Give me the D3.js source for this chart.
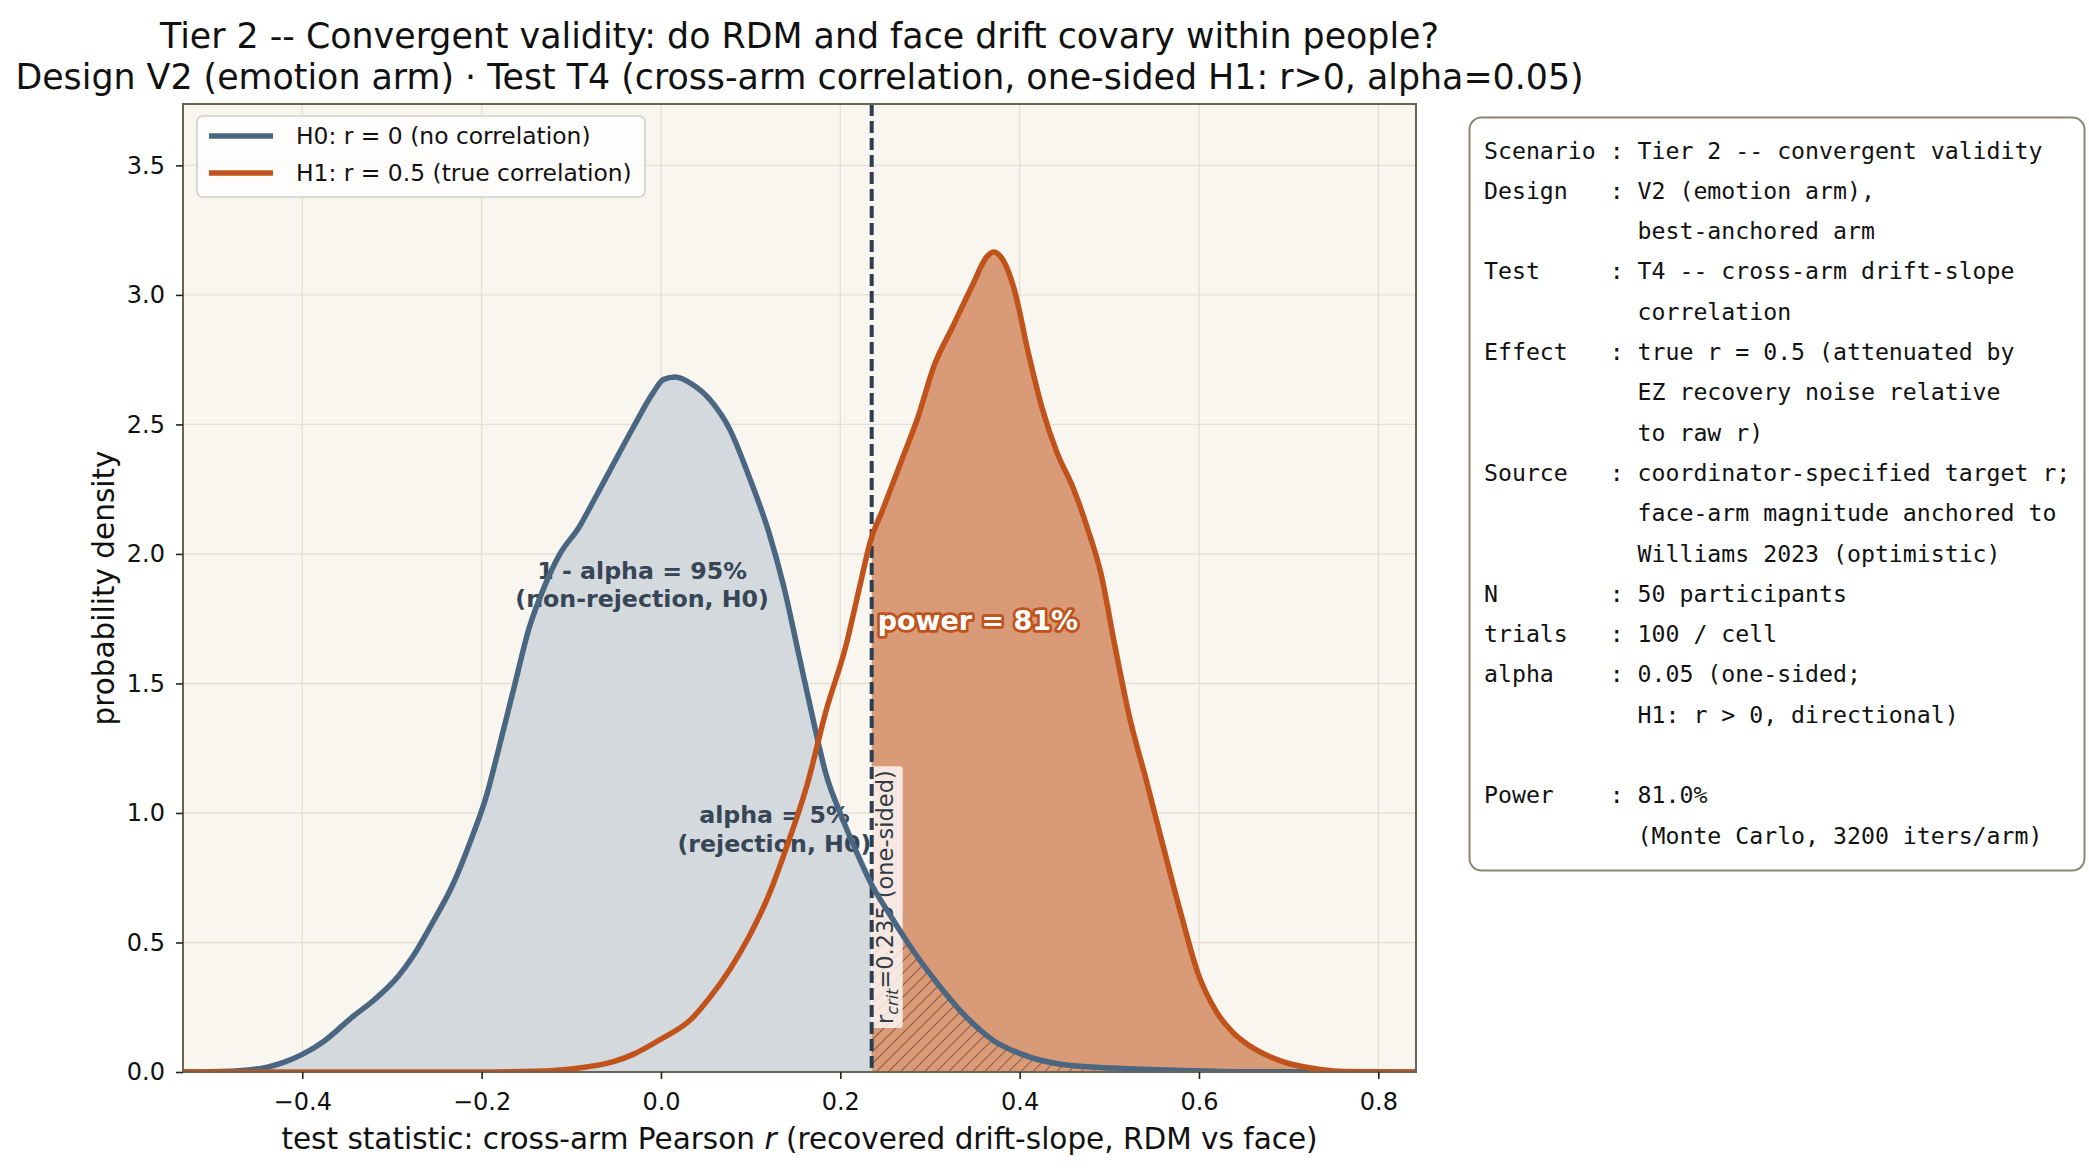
<!DOCTYPE html>
<html><head><meta charset="utf-8">
<script src="https://cdn.jsdelivr.net/npm/d3@7"></script>
<style>body{margin:0;background:#fff;} svg{display:block;}</style>
</head><body><svg id="c" width="2089" height="1172"></svg>
<script>
// ---------- data ----------
const h0X = [-0.533,-0.48,-0.46,-0.44,-0.42,-0.40,-0.375,-0.345,-0.319,-0.293,-0.276,-0.255,-0.233,-0.212,-0.194,-0.182,-0.164,-0.147,-0.13,-0.113,-0.091,-0.074,-0.052,-0.031,-0.009,0.003,0.016,0.034,0.055,0.077,0.098,0.12,0.137,0.154,0.171,0.184,0.201,0.218,0.234,0.255,0.282,0.309,0.34,0.371,0.402,0.444,0.503,0.58,0.657,0.842];
const h0Y = [0,0.003,0.008,0.018,0.038,0.068,0.121,0.21,0.281,0.37,0.45,0.575,0.717,0.895,1.073,1.233,1.482,1.714,1.874,1.998,2.105,2.212,2.354,2.488,2.621,2.674,2.683,2.657,2.594,2.479,2.301,2.087,1.874,1.607,1.34,1.15,0.99,0.85,0.73,0.609,0.464,0.339,0.214,0.121,0.069,0.031,0.015,0.006,0.001,0];
const h1X = [-0.533,-0.2,-0.138,-0.095,-0.052,-0.031,-0.001,0.034,0.055,0.077,0.098,0.12,0.141,0.163,0.184,0.206,0.222,0.234,0.247,0.27,0.286,0.305,0.325,0.348,0.363,0.371,0.383,0.394,0.41,0.425,0.441,0.46,0.475,0.491,0.506,0.522,0.541,0.561,0.58,0.599,0.619,0.638,0.657,0.696,0.735,0.761,0.842];
const h1Y = [0,0,0.003,0.014,0.041,0.068,0.125,0.205,0.29,0.397,0.521,0.681,0.877,1.109,1.393,1.642,1.88,2.054,2.168,2.376,2.522,2.73,2.875,3.042,3.146,3.166,3.125,3.021,2.771,2.563,2.397,2.252,2.106,1.919,1.649,1.378,1.129,0.859,0.609,0.38,0.235,0.152,0.1,0.037,0.01,0.002,0];
const rCrit = 0.235;
const xDomain = [-0.533, 0.842];
const yDomain = [0, 3.737];
const xTicks = [-0.4,-0.2,0.0,0.2,0.4,0.6,0.8];
const yTicks = [0,0.5,1.0,1.5,2.0,2.5,3.0,3.5];
const seriesNames = ["H0: r = 0 (no correlation)", "H1: r = 0.5 (true correlation)"];
const titleLines = ["Tier 2 -- Convergent validity: do RDM and face drift covary within people?",
  "Design V2 (emotion arm) \u00b7 Test T4 (cross-arm correlation, one-sided H1: r>0, alpha=0.05)"];
const annNonRej = ["1 - alpha = 95%", "(non-rejection, H0)"];
const annRej = ["alpha = 5%", "(rejection, H0)"];
const powerLabel = "power = 81%";
const infoLines = [
"Scenario : Tier 2 -- convergent validity",
"Design   : V2 (emotion arm),",
"           best-anchored arm",
"Test     : T4 -- cross-arm drift-slope",
"           correlation",
"Effect   : true r = 0.5 (attenuated by",
"           EZ recovery noise relative",
"           to raw r)",
"Source   : coordinator-specified target r;",
"           face-arm magnitude anchored to",
"           Williams 2023 (optimistic)",
"N        : 50 participants",
"trials   : 100 / cell",
"alpha    : 0.05 (one-sided;",
"           H1: r > 0, directional)",
"",
"Power    : 81.0%",
"           (Monte Carlo, 3200 iters/arm)"];

// ---------- styles ----------
const C = {h0:"#4b6681", h1:"#c0521b", h0fill:"#d3d9dc", h1fill:"#d89a77", bg:"#f9f6f0",
  grid:"#e6e0d3", spine:"#6b6254", ann:"#364656", crit:"#2c3e50", hatch:"#7a3f26"};
const FONT = "'DejaVu Sans', Verdana, sans-serif";
const MONO = "'DejaVu Sans Mono', monospace";

const svg = d3.select("#c");
const M = {l:183, r:1416, t:104, b:1072};
const x = d3.scaleLinear().domain(xDomain).range([M.l, M.r]);
const y = d3.scaleLinear().domain(yDomain).range([M.b, M.t]);

const defs = svg.append("defs");
defs.append("clipPath").attr("id","plot").append("rect")
  .attr("x",M.l).attr("y",M.t).attr("width",M.r-M.l).attr("height",M.b-M.t);
defs.append("clipPath").attr("id","left").append("rect")
  .attr("x",M.l).attr("y",M.t).attr("width",x(rCrit)-M.l).attr("height",M.b-M.t);
defs.append("clipPath").attr("id","right").append("rect")
  .attr("x",x(rCrit)).attr("y",M.t).attr("width",M.r-x(rCrit)).attr("height",M.b-M.t);
const pat = defs.append("pattern").attr("id","hatch").attr("patternUnits","userSpaceOnUse")
  .attr("width",8.5).attr("height",8.5).attr("patternTransform","rotate(45)");
pat.append("line").attr("x1",0).attr("y1",-1).attr("x2",0).attr("y2",10)
  .attr("stroke",C.hatch).attr("stroke-width",1.8).attr("stroke-opacity",0.8);

// axes background
svg.append("rect").attr("x",M.l).attr("y",M.t).attr("width",M.r-M.l).attr("height",M.b-M.t).attr("fill",C.bg);

// grid
const g = svg.append("g");
g.selectAll(".vg").data(xTicks).join("line").attr("x1",d=>x(d)).attr("x2",d=>x(d))
  .attr("y1",M.t).attr("y2",M.b).attr("stroke",C.grid).attr("stroke-width",1.4);
g.selectAll(".hg").data(yTicks).join("line").attr("y1",d=>y(d)).attr("y2",d=>y(d))
  .attr("x1",M.l).attr("x2",M.r).attr("stroke",C.grid).attr("stroke-width",1.4);

const h0 = h0X.map((v,i)=>[v,h0Y[i]]);
const h1 = h1X.map((v,i)=>[v,h1Y[i]]);
const area = d3.area().x(d=>x(d[0])).y0(y(0)).y1(d=>y(d[1])).curve(d3.curveMonotoneX);
const line = d3.line().x(d=>x(d[0])).y(d=>y(d[1])).curve(d3.curveMonotoneX);

svg.append("path").datum(h0).attr("d",area).attr("fill",C.h0fill).attr("clip-path","url(#left)");
svg.append("path").datum(h1).attr("d",area).attr("fill",C.h1fill).attr("clip-path","url(#right)");
svg.append("path").datum(h0).attr("d",area).attr("fill","url(#hatch)").attr("clip-path","url(#right)");

// annotations (under lines)
function multi(lines, cx, cy, size){
  const t = svg.append("text").attr("x",x(cx)).attr("y",y(cy)).attr("text-anchor","middle")
    .attr("font-family",FONT).attr("font-weight","bold").attr("font-size",size).attr("fill",C.ann);
  lines.forEach((s,i)=>t.append("tspan").attr("x",x(cx)).attr("dy", i===0? "0em":"1.22em").text(s));
}
multi(annNonRej, -0.021, 1.905, 23.7);
multi(annRej, 0.1265, 0.962, 23.7);

// rcrit label
const lg = svg.append("g").attr("transform",`translate(${x(rCrit)+21},1024) rotate(-90)`);
const rt = lg.append("text").attr("font-family",FONT).attr("font-size",22.5).attr("fill","#2f3b47");
rt.append("tspan").text("r");
rt.append("tspan").attr("font-size",16).attr("font-style","italic").attr("dy",5).text("crit");
rt.append("tspan").attr("dy",-5).text("=0.235 (one-sided)");
const bb = rt.node().getBBox();
lg.insert("rect","text").attr("x",bb.x-4).attr("y",bb.y-1).attr("width",bb.width+8).attr("height",bb.height+2)
  .attr("rx",3).attr("fill","#ffffff").attr("fill-opacity",0.78);

// critical line
svg.append("line").attr("x1",x(rCrit)).attr("x2",x(rCrit)).attr("y1",M.t).attr("y2",M.b)
  .attr("stroke",C.crit).attr("stroke-width",4).attr("stroke-dasharray","12,5");

// curves
svg.append("path").datum(h0).attr("d",line).attr("fill","none").attr("stroke",C.h0)
  .attr("stroke-width",5.5).attr("stroke-linejoin","round").attr("clip-path","url(#plot)");
svg.append("path").datum(h1).attr("d",line).attr("fill","none").attr("stroke",C.h1)
  .attr("stroke-width",5.5).attr("stroke-linejoin","round").attr("clip-path","url(#plot)");

// power label
svg.append("text").attr("x",x(rCrit)+6).attr("y",y(1.742)).attr("dominant-baseline","central")
  .attr("font-family",FONT).attr("font-weight","bold").attr("font-size",27)
  .attr("fill","#ffffff").attr("stroke",C.h1).attr("stroke-width",5.5).attr("paint-order","stroke")
  .attr("stroke-linejoin","round").text(powerLabel);

// spines
svg.append("rect").attr("x",M.l).attr("y",M.t).attr("width",M.r-M.l).attr("height",M.b-M.t)
  .attr("fill","none").attr("stroke",C.spine).attr("stroke-width",2);

// axes
const fmt = d3.format(".1f");
const ax = svg.append("g").attr("transform",`translate(0,${M.b})`)
  .call(d3.axisBottom(x).tickValues(xTicks).tickFormat(fmt).tickSize(7).tickPadding(14));
const ay = svg.append("g").attr("transform",`translate(${M.l},0)`)
  .call(d3.axisLeft(y).tickValues(yTicks).tickFormat(fmt).tickSize(7).tickPadding(11));
[ax,ay].forEach(a=>{
  a.select(".domain").remove();
  a.selectAll(".tick line").attr("stroke","#222").attr("stroke-width",1.6);
  a.selectAll("text").attr("font-family",FONT).attr("font-size",24).attr("fill","#111");
});

// axis labels
const xl = svg.append("text").attr("x",(M.l+M.r)/2).attr("y",1149).attr("text-anchor","middle")
  .attr("font-family",FONT).attr("font-size",29.5).attr("fill","#111");
xl.append("tspan").text("test statistic: cross-arm Pearson ");
xl.append("tspan").attr("font-style","italic").text("r");
xl.append("tspan").text(" (recovered drift-slope, RDM vs face)");
svg.append("text").attr("transform",`translate(114,${(M.t+M.b)/2}) rotate(-90)`).attr("text-anchor","middle")
  .attr("font-family",FONT).attr("font-size",29.5).attr("fill","#111").text("probability density");

// title
titleLines.forEach((s,i)=>svg.append("text").attr("x",(M.l+M.r)/2).attr("y",48+i*41)
  .attr("text-anchor","middle").attr("font-family",FONT).attr("font-size",34.8).attr("fill","#111").text(s));

// legend
const L = svg.append("g");
L.append("rect").attr("x",197).attr("y",116).attr("width",448).attr("height",81).attr("rx",6)
  .attr("fill","#ffffff").attr("fill-opacity",0.8).attr("stroke","#cfcfcf").attr("stroke-width",1.6);
[C.h0,C.h1].forEach((col,i)=>{
  const cy = 136+i*37;
  L.append("line").attr("x1",209).attr("x2",273).attr("y1",cy).attr("y2",cy).attr("stroke",col).attr("stroke-width",5.5);
  L.append("text").attr("x",296).attr("y",cy).attr("dominant-baseline","central")
    .attr("font-family",FONT).attr("font-size",23.4).attr("fill","#111").text(seriesNames[i]);
});

// info box
svg.append("rect").attr("x",1469.5).attr("y",117.5).attr("width",615).attr("height",753).attr("rx",12)
  .attr("fill","#ffffff").attr("stroke","#8f8571").attr("stroke-width",2);
const it = svg.append("text").attr("font-family",MONO).attr("font-size",23.2).attr("fill","#111")
  .attr("xml:space","preserve").style("white-space","pre");
infoLines.forEach((s,i)=>it.append("tspan").attr("x",1484).attr("y",158.5+i*40.3).text(s));
</script></body></html>
